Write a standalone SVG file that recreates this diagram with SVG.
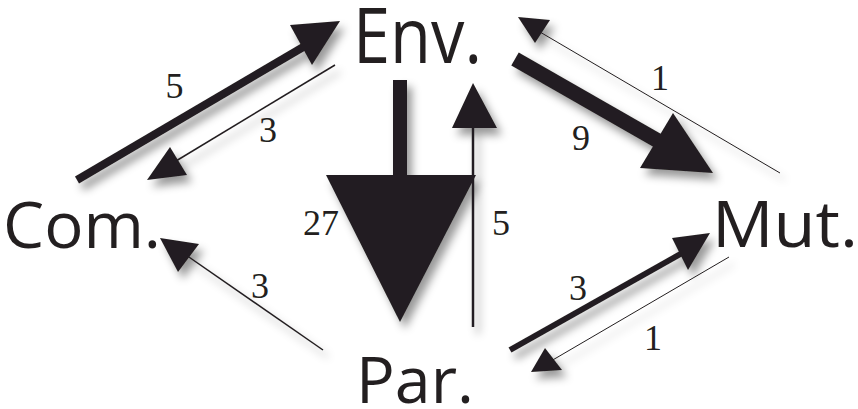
<svg xmlns="http://www.w3.org/2000/svg" width="858" height="409" viewBox="0 0 858 409">
<defs>
<filter id="sh" x="-30%" y="-30%" width="160%" height="160%">
<feDropShadow dx="5" dy="7" stdDeviation="4.5" flood-color="#000" flood-opacity="0.4"/>
</filter>
</defs>
<style>
.node{font-family:"Open Sans","Noto Sans",sans-serif;fill:#231f20}
.num{font-family:"Liberation Serif","DejaVu Serif",serif;font-size:36px;fill:#231f20;text-anchor:middle}
.ln{stroke:#231f20;fill:none;stroke-linecap:butt}
.hd{fill:#231f20}
</style>
<rect width="858" height="409" fill="#fff"/>
<g id="connectors" filter="url(#sh)">
<g id="com-env"><line class="ln" x1="77" y1="180" x2="305" y2="46" stroke-width="8"/><polygon class="hd" points="290,25 340,21 312,65"/></g>
<g id="env-com"><line class="ln" x1="335" y1="65" x2="176" y2="161" stroke-width="1.5"/><polygon class="hd" points="147,180 170,147 187,175"/></g>
<g id="env-par"><rect class="hd" x="393" y="80" width="14" height="97"/><polygon class="hd" points="326,175 476,175 400,322"/></g>
<g id="par-env"><line class="ln" x1="473" y1="327" x2="473" y2="126" stroke-width="2.5"/><polygon class="hd" points="452,128 497,128 473,83"/></g>
<g id="env-mut"><line class="ln" x1="515" y1="59" x2="660" y2="142" stroke-width="15"/><polygon class="hd" points="673,113 640,168 713,173"/></g>
<g id="mut-env"><line class="ln" x1="780" y1="173" x2="540" y2="32" stroke-width="1"/><polygon class="hd" points="518,17 550,20 535,43"/></g>
<g id="par-com"><line class="ln" x1="323" y1="350" x2="186" y2="255" stroke-width="1.5"/><polygon class="hd" points="160,238 199,244 178,272"/></g>
<g id="par-mut"><line class="ln" x1="510" y1="350" x2="684" y2="252" stroke-width="6"/><polygon class="hd" points="710,233 672,238 688,270"/></g>
<g id="mut-par"><line class="ln" x1="729" y1="257" x2="551" y2="361" stroke-width="1"/><polygon class="hd" points="531,372 545,348 562,370"/></g>
</g>
<g id="labels">
<text class="num" x="174.5" y="98">5</text>
<text class="num" x="268" y="142">3</text>
<text class="num" x="321" y="235" font-size="38">27</text>
<text class="num" x="501" y="235" font-size="38">5</text>
<text class="num" x="660" y="90">1</text>
<text class="num" x="581" y="150">9</text>
<text class="num" x="260" y="298">3</text>
<text class="num" x="578" y="300">3</text>
<text class="num" x="653" y="350">1</text>
</g>
<g id="node-env"><text class="node" x="353" y="63" font-size="77" textLength="129" lengthAdjust="spacingAndGlyphs">Env.</text></g>
<g id="node-com"><text class="node" x="3" y="248" font-size="64" textLength="158" lengthAdjust="spacingAndGlyphs">Com.</text></g>
<g id="node-mut"><text class="node" x="712" y="247" font-size="64" textLength="146" lengthAdjust="spacingAndGlyphs">Mut.</text></g>
<g id="node-par"><text class="node" x="356" y="403" font-size="64" textLength="118" lengthAdjust="spacingAndGlyphs">Par.</text></g>
</svg>
